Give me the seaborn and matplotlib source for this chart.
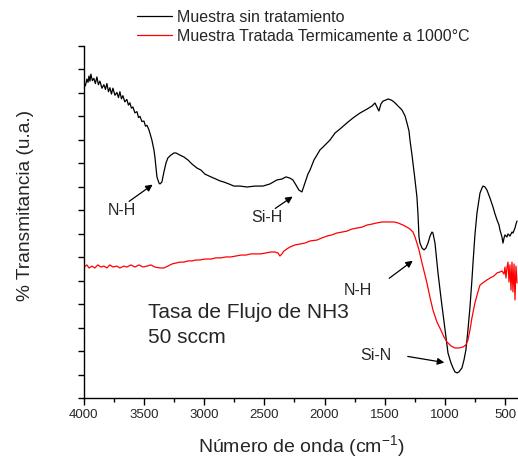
import numpy as np
import pandas as pd
import matplotlib
matplotlib.use("Agg")
import matplotlib.pyplot as plt
import seaborn as sns

# spectra (wavenumber in cm-1, transmittance in a.u.)
wn_untreated = [4000, 3988, 3975, 3966, 3958, 3950, 3942, 3930, 3917, 3905, 3892, 3880,
                3867, 3850, 3834, 3821, 3809, 3796, 3784, 3771, 3759, 3742, 3726, 3713,
                3701, 3688, 3676, 3660, 3643, 3630, 3618, 3605, 3593, 3576, 3559, 3546,
                3534, 3518, 3501, 3488, 3476, 3459, 3435, 3418,
                3410, 3401, 3393, 3376, 3368, 3352, 3335, 3318, 3302, 3277, 3252, 3235,
                3202, 3169, 3135, 3102, 3061, 3027, 2994, 2944, 2903, 2869, 2836, 2795,
                2753, 2703, 2645, 2578, 2512, 2454, 2396, 2354, 2321, 2288, 2263, 2238,
                2213, 2188, 2163, 2138, 2121, 2088, 2063, 2038, 2013, 1955, 1913, 1872,
                1814, 1764, 1706, 1647, 1606, 1581, 1564, 1548, 1531, 1514, 1489, 1472,
                1448, 1431, 1406, 1381, 1356, 1331, 1315, 1298, 1290, 1273, 1265, 1248,
                1232, 1223, 1215, 1207, 1190, 1173, 1157, 1140, 1123, 1107, 1099, 1082,
                1066, 1057, 1032, 1016, 991, 974, 949, 932, 916, 899, 883, 858, 841, 825,
                808, 791, 775, 766, 750, 733, 716, 708, 691, 683, 666, 650, 625, 600, 583,
                566, 550, 542, 525, 517, 508, 500, 484, 475, 459, 442, 434, 417, 409, 400]
t_untreated = [13.42, 13.30, 13.59, 13.45, 13.72, 13.50, 13.80, 13.52, 13.62, 13.40, 13.68, 13.35,
               13.50, 13.20, 13.35, 13.15, 13.40, 13.05, 13.22, 12.95, 13.20, 12.90, 13.02, 12.80,
               13.05, 12.75, 12.88, 12.62, 12.72, 12.48, 12.58, 12.35, 12.40, 12.15, 12.20, 11.95,
               12.00, 11.78, 11.80, 11.58, 11.62, 11.42, 10.99, 10.57,
               10.27, 9.84, 9.42, 9.16, 9.12, 9.20, 9.63, 10.01, 10.23, 10.35, 10.44, 10.44,
               10.35, 10.27, 10.14, 9.97, 9.80, 9.71, 9.54, 9.42, 9.33, 9.25, 9.20, 9.12,
               9.03, 9.03, 8.99, 9.03, 9.03, 9.12, 9.29, 9.33, 9.42, 9.37, 9.29, 9.08,
               8.86, 8.78, 9.16, 9.54, 9.71, 10.14, 10.35, 10.57, 10.69, 10.99, 11.29, 11.46,
               11.72, 11.93, 12.14, 12.31, 12.44, 12.57, 12.40, 12.23, 12.53, 12.65, 12.70, 12.74,
               12.70, 12.65, 12.53, 12.40, 12.27, 12.02, 11.72, 11.38, 10.99, 10.35, 10.01, 9.29,
               8.56, 7.80, 6.86, 6.60, 6.39, 6.31, 6.39, 6.60, 6.90, 7.07, 7.03, 6.60,
               5.79, 5.33, 4.26, 3.62, 2.64, 1.92, 1.49, 1.28, 1.11, 1.07, 1.11, 1.28, 1.62, 2.05,
               2.90, 3.88, 5.03, 5.75, 6.95, 7.88, 8.44, 8.73, 8.95, 9.03, 8.99, 8.86, 8.52, 8.14, 7.84,
               7.58, 7.37, 7.16, 6.86, 6.60, 6.82, 6.95, 6.86, 6.99, 6.90, 7.07, 7.03, 7.24, 7.41, 7.54]

wn_treated = [4000, 3975, 3958, 3933, 3909, 3884, 3859, 3834, 3809, 3784, 3759, 3726,
              3701, 3667, 3643, 3609, 3576, 3543, 3509, 3476, 3443, 3410, 3368, 3335,
              3302, 3268, 3235, 3202, 3169, 3135, 3102, 3069, 3036, 2994, 2944, 2903,
              2861, 2820, 2778, 2736, 2695, 2653, 2612, 2570, 2529, 2487, 2446, 2412,
              2387, 2371, 2354, 2338, 2313, 2288, 2246, 2204, 2163, 2121, 2063, 2022,
              1980, 1938, 1897, 1855, 1814, 1772, 1731, 1689, 1647, 1606, 1564, 1523,
              1489, 1456, 1423, 1390, 1348, 1315, 1290, 1265, 1248, 1232, 1215, 1190,
              1165, 1149, 1124, 1099, 1066, 1041, 1007, 983, 949, 916, 883, 850, 825,
              808, 791, 775, 750, 725, 708, 675, 650, 625, 592, 566, 542, 525, 508,
              500, 492, 484, 475, 467, 459, 450, 442, 434, 425, 417, 409, 400]
t_treated = [5.58, 5.67, 5.54, 5.62, 5.54, 5.67, 5.58, 5.62, 5.54, 5.67, 5.58, 5.62,
             5.54, 5.62, 5.58, 5.67, 5.58, 5.67, 5.58, 5.62, 5.67, 5.58, 5.54, 5.54,
             5.62, 5.71, 5.75, 5.79, 5.79, 5.84, 5.84, 5.88, 5.88, 5.92, 5.92, 5.97,
             5.97, 6.01, 6.01, 6.05, 6.09, 6.09, 6.14, 6.14, 6.14, 6.18, 6.22, 6.22,
             6.18, 6.05, 6.14, 6.26, 6.35, 6.43, 6.52, 6.56, 6.60, 6.69, 6.73, 6.82,
             6.90, 6.95, 7.03, 7.07, 7.11, 7.20, 7.24, 7.28, 7.37, 7.41, 7.46, 7.50,
             7.50, 7.50, 7.50, 7.46, 7.37, 7.28, 7.20, 7.07, 6.86, 6.60, 6.31, 5.75,
             5.24, 4.90, 4.30, 3.75, 3.24, 2.98, 2.60, 2.39, 2.22, 2.13, 2.13, 2.17, 2.26,
             2.47, 2.90, 3.41, 4.05, 4.52, 4.81, 4.94, 5.03, 5.11, 5.20, 5.33, 5.37, 5.41, 5.28,
             5.58, 5.11, 5.54, 5.79, 4.94, 5.67, 4.60, 5.79, 4.52, 5.71, 4.18, 5.62, 4.90]

series_names = ["Muestra sin tratamiento", "Muestra Tratada Termicamente a 1000°C"]
series_colors = ["black", "red"]

df = pd.concat([
    pd.DataFrame({"wn": wn_untreated, "t": t_untreated, "serie": series_names[0]}),
    pd.DataFrame({"wn": wn_treated, "t": t_treated, "serie": series_names[1]}),
])

sns.set_style("ticks")
plt.rcParams["font.family"] = ["Liberation Sans", "DejaVu Sans"]
plt.rcParams["mathtext.default"] = "regular"

fig = plt.figure(figsize=(5.18, 4.61), dpi=100)
ax = fig.add_axes([0.162, 0.1367, 0.838, 0.7636])

sns.lineplot(data=df, x="wn", y="t", hue="serie", palette=series_colors,
             estimator=None, sort=False, linewidth=0.9, ax=ax)

ax.set_xlim(4000, 392)
ax.set_ylim(0, 15)
ax.set_xticks(np.arange(4000, 499, -500))
ax.set_xticks(np.arange(3750, 399, -500), minor=True)
ax.set_yticks(np.arange(0, 16, 1))
ax.set_yticklabels([])
ax.tick_params(axis="x", which="major", length=5, width=1, labelsize=9.5, pad=3, color="black")
ax.tick_params(axis="x", which="minor", length=3, width=1, color="black")
ax.tick_params(axis="y", length=4, width=1, color="black")
for s in ["top", "right"]:
    ax.spines[s].set_visible(False)
for s in ["left", "bottom"]:
    ax.spines[s].set_color("black")
    ax.spines[s].set_linewidth(1)

ax.set_xlabel("Número de onda (cm$^{-1}$)", fontsize=14)
ax.set_ylabel("% Transmitancia (u.a.)", fontsize=13.8)
ax.xaxis.set_label_coords(0.5, -0.1)
ax.yaxis.set_label_coords(-0.116, 0.548)

handles, labels = ax.get_legend_handles_labels()
ax.legend(handles, labels, loc="upper left", bbox_to_anchor=(0.2645, 0.979),
          bbox_transform=fig.transFigure, frameon=False, fontsize=11.5,
          borderpad=0, borderaxespad=0, handlelength=2.2, handletextpad=0.3,
          labelspacing=0.27)

# band labels with arrows
arrow = dict(arrowstyle="-|>", color="black", lw=0.9, mutation_scale=10)
ax.text(3684, 7.97, "N-H", fontsize=11.5, ha="center", va="center")
ax.annotate("", xy=(3410, 9.16), xytext=(3643, 8.31), arrowprops=arrow)
ax.text(2479, 7.67, "Si-H", fontsize=11.5, ha="center", va="center")
ax.annotate("", xy=(2246, 8.65), xytext=(2429, 8.01), arrowprops=arrow)
ax.text(1722, 4.56, "N-H", fontsize=11.5, ha="center", va="center")
ax.annotate("", xy=(1248, 5.92), xytext=(1481, 5.03), arrowprops=arrow)
ax.text(1573, 1.79, "Si-N", fontsize=11.5, ha="center", va="center")
ax.annotate("", xy=(982, 1.49), xytext=(1331, 1.79), arrowprops=arrow)

ax.text(3468, 3.66, "Tasa de Flujo de NH3", fontsize=15, ha="left", va="center")
ax.text(3468, 2.56, "50 sccm", fontsize=15, ha="left", va="center")

fig.savefig("out.png", dpi=100)
